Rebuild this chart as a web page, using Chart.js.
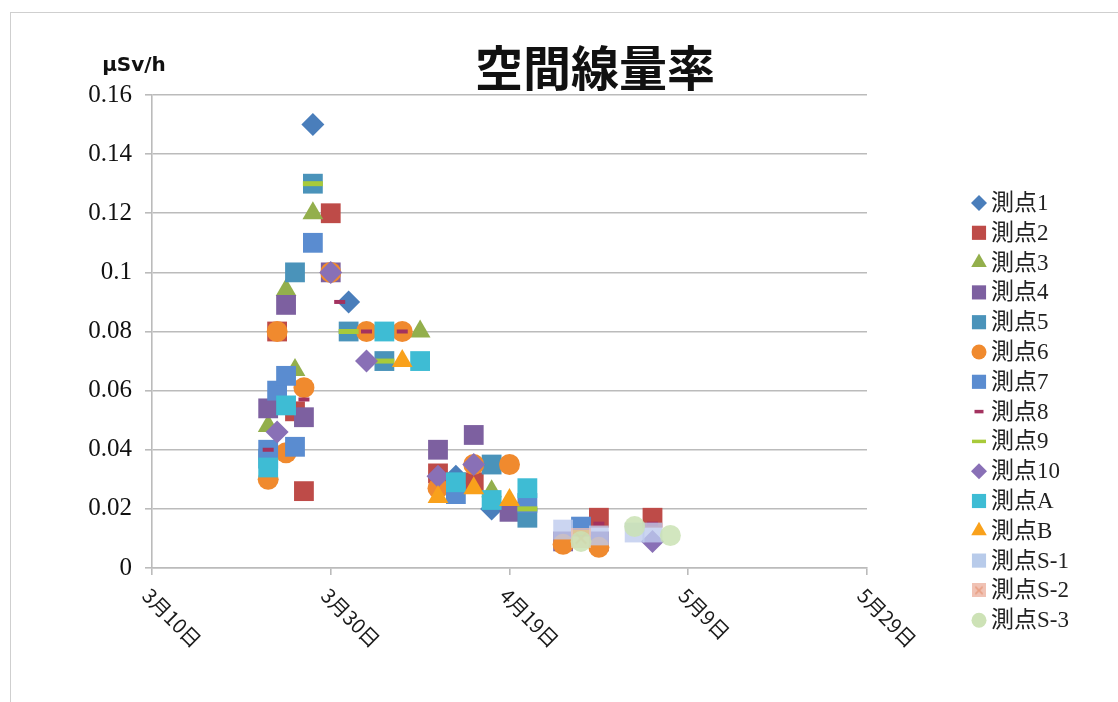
<!DOCTYPE html>
<html lang="ja">
<head>
<meta charset="utf-8">
<title>空間線量率</title>
<script src="https://cdn.jsdelivr.net/npm/chart.js@4.4.0/dist/chart.umd.min.js"></script>
<style>
  html, body { margin: 0; padding: 0; background: #fff; }
  #wrap { position: relative; width: 1118px; height: 702px; overflow: hidden; }
  canvas { display: block; }
</style>
</head>
<body>
<div id="wrap"><canvas id="c" width="1118" height="702"></canvas></div>
<script>
// ---- text ----
const chartTitle = '空間線量率';
const unitLabel = 'μSv/h';
const xTickLabels = ['3月10日', '3月30日', '4月19日', '5月9日', '5月29日'];
const yTickLabels = ['0', '0.02', '0.04', '0.06', '0.08', '0.1', '0.12', '0.14', '0.16'];
const stationNames = ['測点1', '測点2', '測点3', '測点4', '測点5', '測点6', '測点7', '測点8',
                      '測点9', '測点10', '測点A', '測点B', '測点S-1', '測点S-2', '測点S-3'];

// ---- readings per station: [date (M/D), μSv/h] ----
const p1  = [['3/28', 0.150], ['4/1', 0.090], ['4/13', 0.031], ['4/17', 0.020]];
const p2  = [['3/24', 0.080], ['3/26', 0.053], ['3/27', 0.026], ['3/30', 0.120], ['4/11', 0.032], ['4/15', 0.029], ['4/29', 0.017], ['5/5', 0.017]];
const p3  = [['3/23', 0.048], ['3/25', 0.094], ['3/26', 0.067], ['3/28', 0.120], ['4/9', 0.080], ['4/17', 0.026]];
const p4  = [['3/23', 0.054], ['3/25', 0.089], ['3/27', 0.051], ['3/30', 0.100], ['4/11', 0.040], ['4/15', 0.045], ['4/19', 0.019], ['4/25', 0.009], ['4/29', 0.009]];
const p5  = [['3/23', 0.037], ['3/26', 0.100], ['3/28', 0.130], ['4/1', 0.080], ['4/5', 0.070], ['4/17', 0.035], ['4/21', 0.017]];
const p6  = [['3/23', 0.030], ['3/24', 0.080], ['3/25', 0.039], ['3/27', 0.061], ['3/30', 0.100], ['4/3', 0.080], ['4/7', 0.080], ['4/11', 0.027], ['4/15', 0.035], ['4/19', 0.035], ['4/25', 0.008], ['4/29', 0.007]];
const p7  = [['3/23', 0.040], ['3/24', 0.060], ['3/25', 0.065], ['3/26', 0.041], ['3/28', 0.110], ['4/13', 0.025], ['4/21', 0.022], ['4/27', 0.014]];
const p8  = [['3/23', 0.040], ['3/27', 0.057], ['3/31', 0.090], ['4/3', 0.080], ['4/7', 0.080], ['4/29', 0.015], ['5/5', 0.015]];
const p9  = [['3/28', 0.130], ['4/1', 0.080], ['4/5', 0.070], ['4/21', 0.020], ['4/27', 0.012]];
const p10 = [['3/24', 0.046], ['3/30', 0.100], ['4/3', 0.070], ['4/11', 0.031], ['4/15', 0.035], ['5/5', 0.009]];
const pA  = [['3/23', 0.034], ['3/25', 0.055], ['4/5', 0.080], ['4/9', 0.070], ['4/13', 0.029], ['4/17', 0.023], ['4/21', 0.027]];
const pB  = [['4/7', 0.070], ['4/11', 0.024], ['4/15', 0.027], ['4/19', 0.023]];
const pS1 = [['4/25', 0.013], ['4/29', 0.011], ['5/3', 0.012], ['5/5', 0.012]];
const pS2 = [['4/27', 0.010]];
const pS3 = [['4/27', 0.009], ['5/3', 0.014], ['5/7', 0.011]];

// day count from 3月10日
function dayOf(md) {
  const [m, d] = md.split('/').map(Number);
  const monthStart = { 3: 0, 4: 31, 5: 61 };
  return monthStart[m] + d - 10;
}
const toPoints = rows => rows.map(([md, v]) => ({ x: dayOf(md), y: v }));

// square with an x, for 測点S-2
function crossSquare(side, fill, stroke) {
  const cv = document.createElement('canvas');
  cv.width = side; cv.height = side;
  const g = cv.getContext('2d');
  g.fillStyle = fill;
  g.fillRect(0, 0, side, side);
  g.strokeStyle = stroke;
  g.lineWidth = Math.max(1.5, side / 9);
  const m = side * 0.24;
  g.beginPath();
  g.moveTo(m, m); g.lineTo(side - m, side - m);
  g.moveTo(side - m, m); g.lineTo(m, side - m);
  g.stroke();
  return cv;
}
const s2Big = crossSquare(20, 'rgba(240,192,180,0.75)', 'rgba(236,150,120,0.7)');
const s2Small = crossSquare(14, '#F0C2B4', '#E9A084');

// marker styles: chart size and legend size
const styles = [
  { color: '#4A7EBB', shape: 'rectRot', r: 11.5, lr: 8 },
  { color: '#BE4B48', shape: 'rect',    r: 14,   lr: 10 },
  { color: '#93AF4C', shape: 'triangle', r: 12,  lr: 9 },
  { color: '#7D60A0', shape: 'rect',    r: 14,   lr: 10 },
  { color: '#4A93BA', shape: 'rect',    r: 14,   lr: 10 },
  { color: '#F08A2E', shape: 'circle',  r: 10.5, lr: 7.5 },
  { color: '#5A8CD0', shape: 'rect',    r: 14,   lr: 10 },
  { color: '#A3325F', shape: 'line',    r: 5.5,  lr: 4.5, bw: 4,   lbw: 3.5 },
  { color: '#A8CA3A', shape: 'line',    r: 10,   lr: 7,   bw: 5,   lbw: 3.5 },
  { color: '#8970B6', shape: 'rectRot', r: 11.5, lr: 8 },
  { color: '#3EBCD4', shape: 'rect',    r: 14,   lr: 10 },
  { color: '#F9A11B', shape: 'triangle', r: 12,  lr: 9 },
  { color: 'rgba(190,202,238,0.8)', shape: 'rect', r: 14, lr: 10, legendColor: '#B8CBEA' },
  { color: 'rgba(240,192,180,0.75)', shape: s2Big, r: 10, lr: 10, legendShape: s2Small },
  { color: 'rgba(202,226,180,0.85)', shape: 'circle', r: 10.5, lr: 7.5, legendColor: '#CDE2B6' }
];
const allRows = [p1, p2, p3, p4, p5, p6, p7, p8, p9, p10, pA, pB, pS1, pS2, pS3];

const datasets = allRows.map((rows, i) => {
  const st = styles[i];
  const isLine = st.shape === 'line';
  return {
    label: stationNames[i],
    data: toPoints(rows),
    pointStyle: st.shape,
    pointRadius: st.r,
    pointHoverRadius: st.r,
    pointBackgroundColor: st.color,
    pointBorderColor: st.color,
    pointBorderWidth: isLine ? st.bw : 0,
    showLine: false,
    order: allRows.length - i   // later stations sit on top
  };
});

// light frame around the whole figure
const framePlugin = {
  id: 'frame',
  beforeDraw(chart) {
    const c = chart.ctx;
    c.save();
    c.fillStyle = '#fff';
    c.fillRect(0, 0, chart.width, chart.height);
    c.strokeStyle = '#CFCFCF';
    c.lineWidth = 1;
    c.strokeRect(10.5, 12.5, 1300, 900);
    c.restore();
  }
};

// title and unit
const headingPlugin = {
  id: 'headings',
  afterDraw(chart) {
    const c = chart.ctx;
    c.save();
    c.fillStyle = '#111';
    c.textAlign = 'center';
    c.textBaseline = 'middle';
    c.font = 'bold 48px "Noto Sans CJK JP", sans-serif';
    c.fillText(chartTitle, 595, 68);
    c.font = 'bold 20px "DejaVu Sans", sans-serif';
    c.fillText(unitLabel, 134, 66);
    c.restore();
  }
};

// date labels, turned 45° and running down from each tick
const xLabelPlugin = {
  id: 'xLabels',
  afterDraw(chart) {
    const sc = chart.scales.x;
    const c = chart.ctx;
    c.save();
    c.fillStyle = '#1a1a1a';
    c.font = '20px "Noto Sans CJK JP", sans-serif';
    c.textAlign = 'left';
    c.textBaseline = 'middle';
    sc.ticks.forEach((t, i) => {
      const x = sc.getPixelForValue(t.value);
      c.save();
      c.translate(x - 6, sc.top + 24);
      c.rotate(Math.PI / 4);
      c.fillText(xTickLabels[i], 0, 0);
      c.restore();
    });
    c.restore();
  }
};

// legend column on the right
const sideLegendPlugin = {
  id: 'sideLegend',
  afterDraw(chart) {
    const c = chart.ctx;
    const x0 = 979, y0 = 203, step = 29.8;
    c.save();
    chart.data.datasets.forEach((ds, i) => {
      const st = styles[i];
      const y = y0 + i * step;
      const col = st.legendColor || st.color;
      c.fillStyle = col;
      c.strokeStyle = col;
      c.lineWidth = st.lbw || 1;
      Chart.helpers.drawPoint(c, {
        pointStyle: st.legendShape || st.shape,
        radius: st.lr,
        rotation: 0,
        borderWidth: st.shape === 'line' ? st.lbw : 0
      }, x0, y);
      c.fillStyle = '#222';
      c.font = '23px "Liberation Serif", "Noto Sans CJK JP", serif';
      c.textAlign = 'left';
      c.textBaseline = 'middle';
      c.fillText(ds.label, x0 + 12, y + 1);
    });
    c.restore();
  }
};

const gridGrey = '#BBBBBB';

new Chart(document.getElementById('c'), {
  type: 'scatter',
  data: { datasets },
  options: {
    responsive: false,
    animation: false,
    events: [],
    layout: { padding: { left: 0, top: 95, right: 251, bottom: 0 } },
    plugins: { legend: { display: false }, tooltip: { enabled: false }, title: { display: false } },
    scales: {
      x: {
        type: 'linear',
        min: 0,
        max: 80,
        afterBuildTicks: s => { s.ticks = xTickLabels.map((_, i) => ({ value: i * 20 })); },
        ticks: { display: false },
        grid: { drawOnChartArea: false, drawTicks: true, tickLength: 7, color: gridGrey, lineWidth: 1.6 },
        border: { color: gridGrey, width: 1.6 },
        afterFit: s => { s.height = 134; }
      },
      y: {
        type: 'linear',
        min: 0,
        max: 0.16,
        ticks: {
          stepSize: 0.02,
          callback: (v, i) => yTickLabels[i],
          color: '#111',
          padding: 13,
          font: { family: '"Liberation Serif", serif', size: 25 }
        },
        grid: { color: gridGrey, lineWidth: 1.6, tickLength: 7 },
        border: { color: gridGrey, width: 1.6 },
        afterFit: s => { s.width = 152; }
      }
    }
  },
  plugins: [framePlugin, headingPlugin, xLabelPlugin, sideLegendPlugin]
});
</script>
</body>
</html>
